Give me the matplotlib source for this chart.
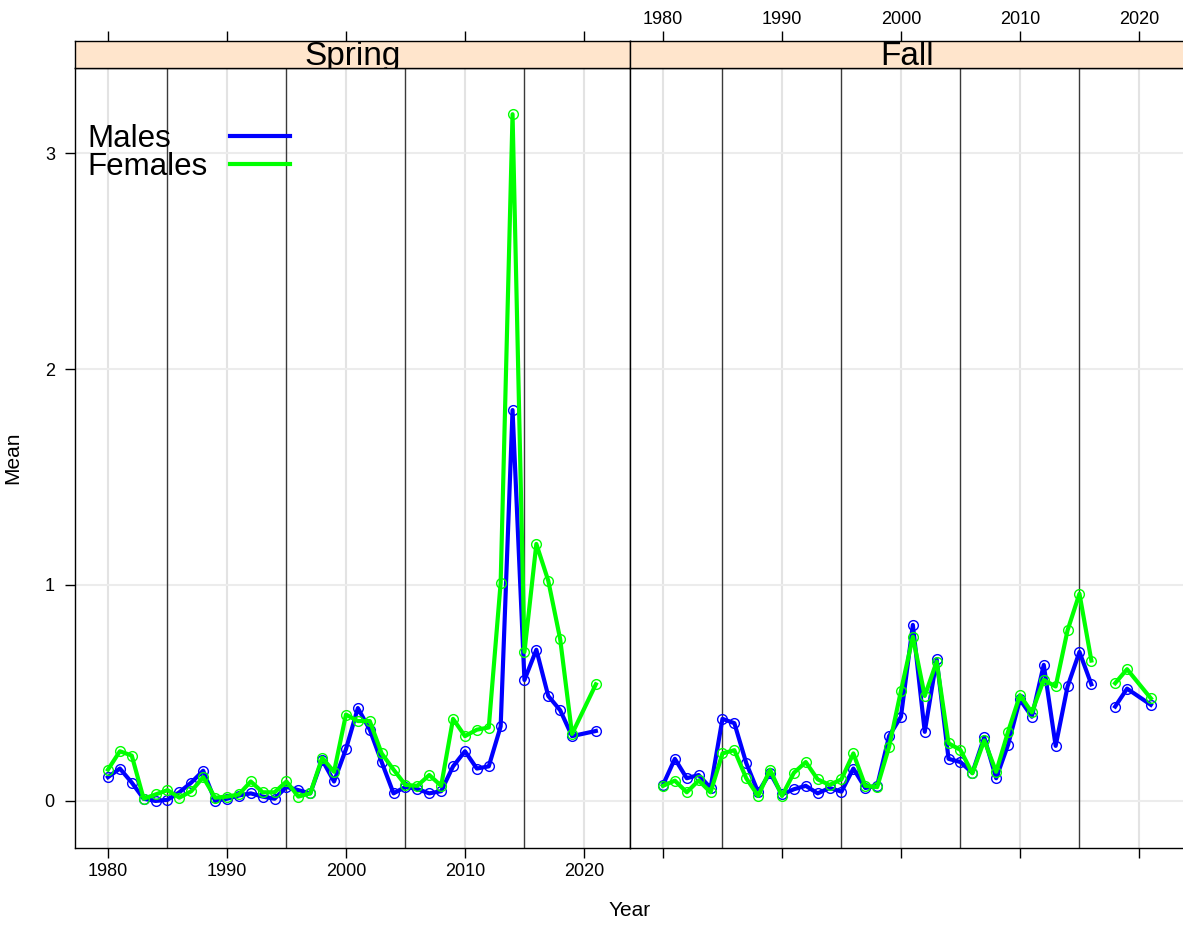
import numpy as np
import matplotlib

matplotlib.use("Agg")
import matplotlib.pyplot as plt
from matplotlib.lines import Line2D

plt.rcParams["font.family"] = ["Liberation Sans", "DejaVu Sans"]

# Spring survey (2020 not sampled)
spring_years = list(range(1980, 2020)) + [2021]
spring_males = [0.11, 0.15, 0.085, 0.01, 0.0, 0.005, 0.04, 0.085, 0.14, 0.0,
                0.01, 0.025, 0.035, 0.02, 0.01, 0.065, 0.05, 0.035, 0.19, 0.09,
                0.24, 0.43, 0.33, 0.18, 0.035, 0.065, 0.055, 0.035, 0.045, 0.16,
                0.23, 0.15, 0.16, 0.345, 1.81, 0.56, 0.70, 0.486, 0.42, 0.30,
                0.324]
spring_females = [0.145, 0.23, 0.21, 0.01, 0.03, 0.05, 0.015, 0.045, 0.11, 0.015,
                  0.02, 0.03, 0.09, 0.04, 0.04, 0.09, 0.02, 0.035, 0.20, 0.135,
                  0.40, 0.37, 0.37, 0.22, 0.145, 0.074, 0.07, 0.12, 0.07, 0.38,
                  0.30, 0.33, 0.34, 1.01, 3.18, 0.69, 1.19, 1.02, 0.75, 0.31,
                  0.54]

# Fall survey (2017 missing -> gap, 2020 not sampled)
fall_years = list(range(1980, 2020)) + [2021]
fall_males = [0.074, 0.195, 0.105, 0.12, 0.06, 0.38, 0.36, 0.175, 0.04, 0.13,
              0.03, 0.054, 0.07, 0.035, 0.06, 0.043, 0.15, 0.06, 0.07, 0.30,
              0.39, 0.815, 0.32, 0.656, 0.195, 0.18, 0.13, 0.295, 0.105, 0.26,
              0.47, 0.39, 0.63, 0.255, 0.53, 0.69, 0.54, np.nan, 0.437, 0.52,
              0.445]
fall_females = [0.07, 0.094, 0.04, 0.095, 0.04, 0.22, 0.235, 0.105, 0.023, 0.145,
                0.023, 0.13, 0.18, 0.10, 0.074, 0.10, 0.22, 0.07, 0.064, 0.25,
                0.51, 0.76, 0.486, 0.645, 0.267, 0.236, 0.128, 0.28, 0.135, 0.32,
                0.49, 0.41, 0.56, 0.53, 0.79, 0.96, 0.65, np.nan, 0.545, 0.61,
                0.475]

panels = ["Spring", "Fall"]
series_labels = ["Males", "Females"]
series_colors = ["#0000ff", "#00ff00"]
x_ticks = [1980, 1990, 2000, 2010, 2020]
five_year_lines = [1985, 1995, 2005, 2015]
y_ticks = [0, 1, 2, 3]

W, H = 1183, 926
XLIM = (1977.23, 2023.87)
YLIM = (-0.218, 3.394)

fig = plt.figure(figsize=(W / 100, H / 100), dpi=100)

panel_data = {
    "Spring": (spring_years, [spring_males, spring_females]),
    "Fall": (fall_years, [fall_males, fall_females]),
}

left_px = [75, 630]
panel_w = 555
bottom = 1 - 848 / H
top = 1 - 68 / H
strip_h = 27 / H

axes = []
for i, name in enumerate(panels):
    ax = fig.add_axes([left_px[i] / W, bottom, panel_w / W, top - bottom])
    sax = fig.add_axes([left_px[i] / W, top, panel_w / W, strip_h])
    years, values = panel_data[name]

    for v in x_ticks:
        ax.axvline(v, color="#e3e3e3", lw=1.5, zorder=0)
    for v in y_ticks:
        ax.axhline(v, color="#ececec", lw=1.5, zorder=0)
    for v in five_year_lines:
        ax.axvline(v, color="#3a3a3a", lw=1.0, zorder=1)

    for vals, col in zip(values, series_colors):
        ax.plot(years, vals, color=col, lw=3, marker="o", markersize=7,
                markerfacecolor="none", markeredgecolor=col, markeredgewidth=1,
                zorder=3)

    ax.set_xlim(*XLIM)
    ax.set_ylim(*YLIM)
    ax.set_xticks(x_ticks)
    ax.tick_params(axis="x", direction="out", length=7.5, width=1,
                   labelsize=13, pad=3.5, top=False)
    ax.tick_params(axis="y", direction="out", length=7.5, width=1,
                   labelsize=13, pad=7, right=False)
    if i == 0:
        ax.set_yticks(y_ticks)
        ax.set_yticklabels([str(t) for t in y_ticks])
        ax.set_ylabel("Mean", fontsize=15, labelpad=16)
    else:
        ax.set_yticks([])
        ax.set_xticklabels([])
    for s in ax.spines.values():
        s.set_linewidth(1)

    # strip
    sax.set_facecolor("#ffe5cc")
    sax.set_xlim(*XLIM)
    sax.set_ylim(0, 1)
    sax.set_yticks([])
    sax.set_xticks(x_ticks)
    sax.tick_params(axis="x", direction="out", length=7.5, width=1, labelsize=13,
                    bottom=False, labelbottom=False, top=True, labeltop=(i == 1),
                    pad=2)
    sax.text(0.5, 0.11, name, transform=sax.transAxes, ha="center",
             va="baseline", fontsize=24, clip_on=True)
    for s in sax.spines.values():
        s.set_linewidth(1)
    axes.append(ax)

fig.text(630 / W, 1 - 910 / H, "Year", ha="center", va="center", fontsize=15)

# key drawn as in lattice: labels left-aligned, line samples to the right
key_y = [147, 175]
line_y = [136, 164]
for lab, col, ty, ly in zip(series_labels, series_colors, key_y, line_y):
    fig.text(87 / W, 1 - ty / H, lab, ha="left", va="baseline", fontsize=22.5)
    fig.add_artist(Line2D([230 / W, 290 / W], [1 - ly / H, 1 - ly / H],
                          color=col, lw=3, transform=fig.transFigure))

fig.savefig("out.png", dpi=100)
